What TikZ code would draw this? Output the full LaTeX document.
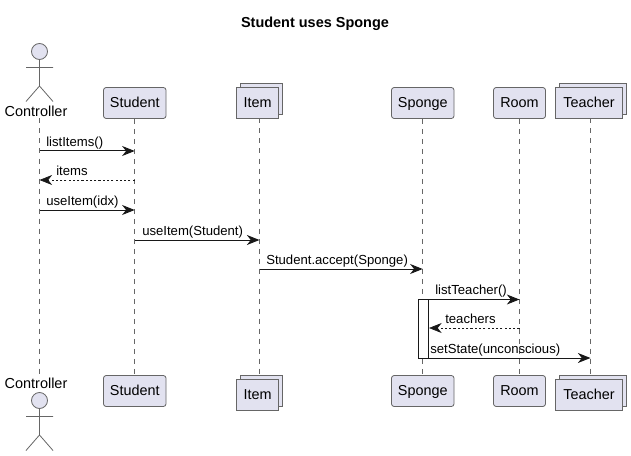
\documentclass[tikz,border=0pt]{standalone}
\usepackage{fontspec}
\setmainfont{Liberation Sans}
\usetikzlibrary{arrows.meta,shadows}
\definecolor{boxfill}{HTML}{E2E2F0}
\definecolor{boxline}{HTML}{181818}
\definecolor{thinline}{HTML}{666666}
\tikzset{
	part/.style={draw=thinline,fill=boxfill,line width=0.6pt,rounded corners=2pt,inner sep=0,minimum height=23.25pt,text height=7pt,text depth=0.6pt,font=\fontsize{10.8}{12}\selectfont},
	stack/.style={draw=thinline,fill=boxfill,line width=0.6pt,inner sep=0,minimum height=23.25pt,text height=7pt,text depth=0.6pt,font=\fontsize{10.8}{12}\selectfont,
		copy shadow={shadow xshift=3pt,shadow yshift=3pt,fill=boxfill,draw=thinline,opacity=1}},
	life/.style={draw=thinline,line width=0.5pt,dash pattern=on 3.75pt off 3.75pt},
	msg/.style={draw=boxline,line width=0.75pt,-{Stealth[length=9.5pt,width=7.5pt,inset=3pt]}},
	back/.style={msg,line width=0.5pt,dash pattern=on 1.6pt off 1.6pt},
	lbl/.style={anchor=base west,inner sep=0,font=\fontsize{9.85}{12}\selectfont},
	who/.style={anchor=base,inner sep=0,font=\fontsize{10.85}{12}\selectfont},
	pics/actor/.style={code={
		\node[circle,draw=thinline,fill=boxfill,line width=0.6pt,minimum size=12pt,inner sep=0] (-head) at (0,0) {};
		\draw[thinline,line width=0.6pt] (-head.south) -- (0,34.5) (-13.5,16) -- (13.5,16) (-13.5,50) -- (0,34.5) -- (13.5,50);
	}}
}
\begin{document}
\begin{tikzpicture}[x=0.75pt,y=-0.75pt]
	\useasboundingbox (0,0) rectangle (631,456);

	\node[anchor=base,inner sep=0,font=\bfseries\fontsize{10.85}{12}\selectfont] (title) at (315,27.5) {Student uses Sponge};

	% top row
	\pic (ctrlt) at (39.5,51.5) {actor};
	\node[who] (ctrltl) at (36,116.5) {Controller};
	\coordinate (ctrl) at (39.5,118.5);
	\node[part,minimum width=46.9pt] (student) at (134.75,103) {Student};
	\node[stack,minimum width=31.5pt] (item) at (257.5,103) {Item};
	\node[part,minimum width=46.9pt] (sponge) at (422.75,103) {Sponge};
	\node[part,minimum width=39pt] (room) at (519.5,103) {Room};
	\node[stack,minimum width=50.25pt] (teacher) at (589,103) {Teacher};

	% bottom row
	\coordinate (ctrlb) at (39.5,375.5);
	\node[who] (ctrlbl) at (36,388) {Controller};
	\pic (ctrlf) at (39.5,400.5) {actor};
	\node[part,minimum width=46.9pt] (studentb) at (134.75,391) {Student};
	\node[stack,minimum width=31.5pt] (itemb) at (257.5,395) {Item};
	\node[part,minimum width=46.9pt] (spongeb) at (422.75,391) {Sponge};
	\node[part,minimum width=39pt] (roomb) at (519.5,391) {Room};
	\node[stack,minimum width=50.25pt] (teacherb) at (589,395) {Teacher};

	% lifelines
	\coordinate (itemtop) at (259.5,118.5);
	\coordinate (itembot) at (259.5,375.5);
	\coordinate (teachertop) at (590.5,118.5);
	\coordinate (teacherbot) at (590.5,375.5);
	\draw[life] (ctrl) -- (ctrlb);
	\draw[life] (student.south) -- (studentb.north);
	\draw[life] (itemtop) -- (itembot);
	\draw[life] (sponge.south) -- (spongeb.north);
	\draw[life] (room.south) -- (roomb.north);
	\draw[life] (teachertop) -- (teacherbot);

	% activation
	\node[draw=boxline,fill=white,line width=0.75pt,inner sep=0,minimum width=7.5pt,minimum height=44.25pt] (active) at (423.5,329) {};

	% messages
	\coordinate (y1) at (0,151);
	\coordinate (y2) at (0,180);
	\coordinate (y3) at (0,210);
	\coordinate (y4) at (0,240);
	\coordinate (y5) at (0,269);
	\coordinate (y6) at (0,299.5);
	\coordinate (y7) at (0,328);
	\coordinate (y8) at (0,358);
	\draw[msg] (ctrl |- y1) -- (student |- y1);
	\draw[back] (student |- y2) -- (ctrl |- y2);
	\draw[msg] (ctrl |- y3) -- (student |- y3);
	\draw[msg] (student |- y4) -- (itemtop |- y4);
	\draw[msg] (itemtop |- y5) -- (sponge |- y5);
	\draw[msg] (active.east |- y6) -- (room |- y6);
	\draw[back] (room |- y7) -- (active.east |- y7);
	\draw[msg] (active.east |- y8) -- (teachertop |- y8);

	\node[lbl] (m1) at (46,146.2) {listItems()};
	\node[lbl] (m2) at (56,175.2) {items};
	\node[lbl] (m3) at (46,205.2) {useItem(idx)};
	\node[lbl] (m4) at (142,235.2) {useItem(Student)};
	\node[lbl] (m5) at (266,264.2) {Student.accept(Sponge)};
	\node[lbl] (m6) at (435,294.2) {listTeacher()};
	\node[lbl] (m7) at (445,323.2) {teachers};
	\node[lbl] (m8) at (430,353.2) {setState(unconscious)};
\end{tikzpicture}
\end{document}
